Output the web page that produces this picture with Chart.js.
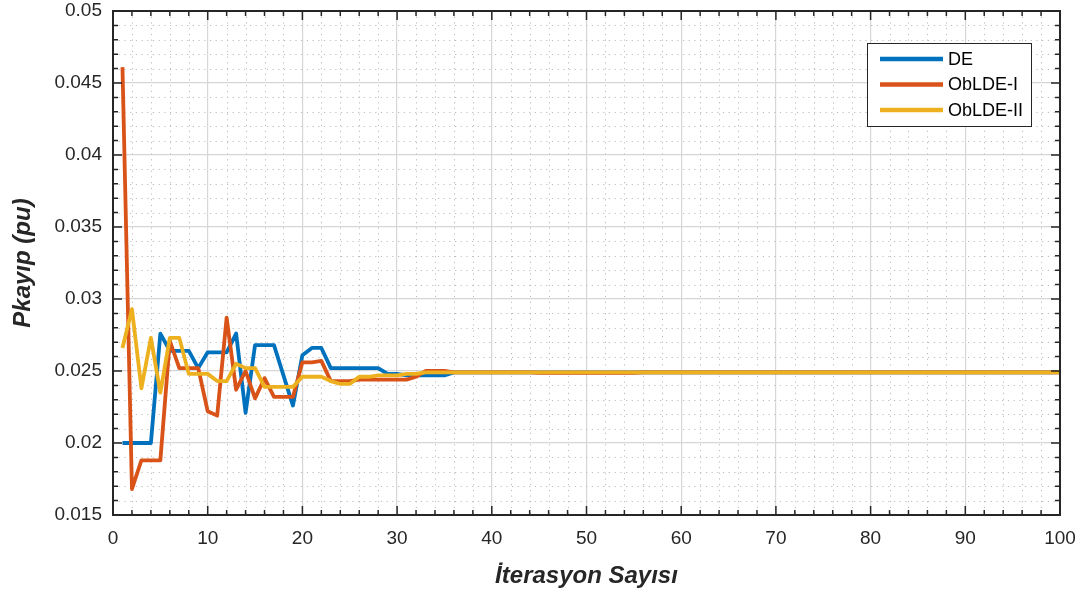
<!DOCTYPE html>
<html>
<head>
<meta charset="utf-8">
<script src="https://cdn.jsdelivr.net/npm/chart.js@4/dist/chart.umd.min.js"></script>
<style>
html,body{margin:0;padding:0;background:#fff;}
#wrap{width:1083px;height:594px;}
</style>
</head>
<body>
<div id="wrap"><canvas id="c" width="1083" height="594"></canvas></div>
<script>
const iterations = [1,2,3,4,5,6,7,8,9,10,11,12,13,14,15,16,17,18,19,20,21,22,23,24,25,26,27,28,29,30,31,32,33,34,35,36,37,38,39,40,41,42,43,44,45,46,47,48,49,50,51,52,53,54,55,56,57,58,59,60,61,62,63,64,65,66,67,68,69,70,71,72,73,74,75,76,77,78,79,80,81,82,83,84,85,86,87,88,89,90,91,92,93,94,95,96,97,98,99,100];

const seriesNames = ["DE", "ObLDE-I", "ObLDE-II"];

const deValues = [
0.0200,0.0200,0.0200,0.0200,0.0276,0.0264,0.0264,0.0264,0.0252,0.0263,
0.0263,0.0263,0.0276,0.0221,0.0268,0.0268,0.0268,0.0247,0.0226,0.0261,
0.0266,0.0266,0.0252,0.0252,0.0252,0.0252,0.0252,0.0252,0.0248,0.0248,
0.0247,0.0247,0.0247,0.0247,0.0247,0.0249,0.0249,0.0249,0.0249,0.0249,
0.0249,0.0249,0.0249,0.0249,0.0249,0.0249,0.0249,0.0249,0.0249,0.0249,
0.0249,0.0249,0.0249,0.0249,0.0249,0.0249,0.0249,0.0249,0.0249,0.0249,
0.0249,0.0249,0.0249,0.0249,0.0249,0.0249,0.0249,0.0249,0.0249,0.0249,
0.0249,0.0249,0.0249,0.0249,0.0249,0.0249,0.0249,0.0249,0.0249,0.0249,
0.0249,0.0249,0.0249,0.0249,0.0249,0.0249,0.0249,0.0249,0.0249,0.0249,
0.0249,0.0249,0.0249,0.0249,0.0249,0.0249,0.0249,0.0249,0.0249,0.0249];

const obldeIValues = [
0.0461,0.0168,0.0188,0.0188,0.0188,0.0271,0.0252,0.0252,0.0252,0.0222,
0.0219,0.0287,0.0237,0.0250,0.0231,0.0245,0.0232,0.0232,0.0232,0.0256,
0.0256,0.0257,0.0243,0.0243,0.0243,0.0244,0.0244,0.0244,0.0244,0.0244,
0.0244,0.0246,0.0250,0.0250,0.0250,0.0249,0.0249,0.0249,0.0249,0.0249,
0.0249,0.0249,0.0249,0.0249,0.02488,0.02488,0.02488,0.02488,0.02488,0.02488,
0.02488,0.02488,0.02488,0.02488,0.02488,0.0249,0.0249,0.0249,0.0249,0.0249,
0.0249,0.0249,0.0249,0.0249,0.0249,0.0249,0.0249,0.0249,0.0249,0.0249,
0.0249,0.0249,0.0249,0.0249,0.0249,0.0249,0.0249,0.0249,0.0249,0.0249,
0.0249,0.0249,0.0249,0.0249,0.0249,0.0249,0.0249,0.0249,0.0249,0.0249,
0.0249,0.0249,0.0249,0.0249,0.0249,0.0249,0.0249,0.0249,0.0249,0.0249];

const obldeIIValues = [
0.0266,0.0293,0.0238,0.0273,0.0235,0.0273,0.0273,0.0248,0.0248,0.0248,
0.0243,0.0243,0.0255,0.0252,0.0252,0.0239,0.0239,0.0239,0.0239,0.0246,
0.0246,0.0246,0.0243,0.0241,0.0241,0.0246,0.0246,0.0247,0.0247,0.0247,
0.0248,0.0248,0.0249,0.0249,0.0249,0.0249,0.0249,0.0249,0.0249,0.0249,
0.0249,0.0249,0.0249,0.0249,0.0249,0.0249,0.0249,0.0249,0.0249,0.0249,
0.0249,0.0249,0.0249,0.0249,0.0249,0.0249,0.0249,0.0249,0.0249,0.0249,
0.0249,0.0249,0.0249,0.0249,0.0249,0.0249,0.0249,0.0249,0.0249,0.0249,
0.0249,0.0249,0.0249,0.0249,0.0249,0.0249,0.0249,0.0249,0.0249,0.0249,
0.0249,0.0249,0.0249,0.0249,0.0249,0.0249,0.0249,0.0249,0.0249,0.0249,
0.0249,0.0249,0.0249,0.0249,0.0249,0.0249,0.0249,0.0249,0.0249,0.0249];

const xTickLabels = ["0","10","20","30","40","50","60","70","80","90","100"];
const yTickLabels = ["0.015","0.02","0.025","0.03","0.035","0.04","0.045","0.05"];

const xTitle = "İterasyon Sayısı";
const yTitle = "Pkayıp (pu)";

const colors = ["#0072BD", "#D95319", "#EDB120"];
const allValues = [deValues, obldeIValues, obldeIIValues];

const datasets = allValues.map((vals, k) => ({
  label: seriesNames[k],
  data: iterations.map((it, i) => ({x: it, y: vals[i]})),
  borderColor: colors[k],
  backgroundColor: colors[k],
  borderWidth: 3.8,
  pointRadius: 0,
  tension: 0,
  fill: false,
  order: allValues.length - 1 - k,
  borderJoinStyle: 'round',
  borderCapStyle: 'butt'
}));

const AXIS = '#262626';
const FONT = '"Liberation Sans", Arial, Helvetica, sans-serif';

const decor = {
  id: 'decor',
  beforeDatasetsDraw(chart) {
    const {ctx, chartArea: a, scales: {x, y}} = chart;
    ctx.save();
    ctx.strokeStyle = '#bdbdbd';
    ctx.lineWidth = 1;
    ctx.setLineDash([1.2, 4.5]);
    for (let k = 0; k <= 100; k += 2) {
      if (k % 10 === 0) continue;
      const px = Math.round(x.getPixelForValue(k)) + 0.5;
      ctx.beginPath(); ctx.moveTo(px, a.top); ctx.lineTo(px, a.bottom); ctx.stroke();
    }
    for (let k = 15; k <= 50; k++) {
      if (k % 5 === 0) continue;
      const py = Math.round(y.getPixelForValue(k / 1000)) + 0.5;
      ctx.beginPath(); ctx.moveTo(a.left, py); ctx.lineTo(a.right, py); ctx.stroke();
    }
    ctx.restore();
  },
  afterDraw(chart) {
    const {ctx, chartArea: a, scales: {x, y}} = chart;
    ctx.save();
    ctx.strokeStyle = AXIS;
    ctx.lineWidth = 1.5;
    ctx.setLineDash([]);
    for (let k = 0; k <= 100; k += 2) {
      const len = (k % 10 === 0) ? 9 : 5;
      const px = x.getPixelForValue(k);
      ctx.beginPath();
      ctx.moveTo(px, a.bottom); ctx.lineTo(px, a.bottom - len);
      ctx.moveTo(px, a.top); ctx.lineTo(px, a.top + len);
      ctx.stroke();
    }
    for (let k = 15; k <= 50; k++) {
      const len = (k % 5 === 0) ? 9 : 5;
      const py = y.getPixelForValue(k / 1000);
      ctx.beginPath();
      ctx.moveTo(a.left, py); ctx.lineTo(a.left + len, py);
      ctx.moveTo(a.right, py); ctx.lineTo(a.right - len, py);
      ctx.stroke();
    }
    ctx.lineWidth = 2;
    ctx.strokeRect(a.left, a.top, a.right - a.left, a.bottom - a.top);

    const lx = a.right - 193, ly = a.top + 32, lw = 164, lh = 83;
    ctx.fillStyle = '#ffffff';
    ctx.fillRect(lx, ly, lw, lh);
    ctx.strokeStyle = AXIS;
    ctx.lineWidth = 1;
    ctx.strokeRect(lx + 0.5, ly + 0.5, lw, lh);
    ctx.font = '18px ' + FONT;
    ctx.textBaseline = 'middle';
    ctx.textAlign = 'left';
    chart.data.datasets.forEach((ds, i) => {
      const cy = ly + 16 + i * 25.5;
      ctx.strokeStyle = ds.borderColor;
      ctx.lineWidth = 4.5;
      ctx.beginPath(); ctx.moveTo(lx + 13, cy); ctx.lineTo(lx + 76, cy); ctx.stroke();
      ctx.fillStyle = '#000000';
      ctx.fillText(ds.label, lx + 81, cy + 1);
    });
    ctx.restore();
  }
};

new Chart(document.getElementById('c'), {
  type: 'line',
  data: { datasets },
  options: {
    responsive: false,
    devicePixelRatio: 1,
    animation: false,
    layout: { padding: { top: 11, right: 23, left: 0, bottom: 0 } },
    plugins: { legend: { display: false }, tooltip: { enabled: false } },
    scales: {
      x: {
        type: 'linear',
        min: 0, max: 100,
        afterFit(s) { s.height = 79; s.paddingLeft = 0; s.paddingRight = 0; },
        afterBuildTicks(s) { s.ticks = xTickLabels.map(t => ({ value: Number(t) })); },
        ticks: {
          callback: (v) => { const i = xTickLabels.indexOf(String(v)); return i >= 0 ? xTickLabels[i] : ''; },
          font: { family: FONT, size: 19 },
          color: AXIS,
          padding: 12,
          maxRotation: 0,
          autoSkip: false
        },
        grid: { color: '#d6d6d6', lineWidth: 1.2, drawTicks: false },
        border: { display: false },
        title: {
          display: true,
          text: xTitle,
          font: { family: FONT, size: 24, weight: 'bold', style: 'italic' },
          color: AXIS,
          padding: { top: 0, bottom: 3 }
        }
      },
      y: {
        type: 'linear',
        min: 0.015, max: 0.05,
        afterFit(s) { s.width = 113; s.paddingTop = 0; s.paddingBottom = 0; },
        afterBuildTicks(s) { s.ticks = yTickLabels.map(t => ({ value: Number(t) })); },
        ticks: {
          callback: (v) => { const m = yTickLabels.find(t => Math.abs(Number(t) - v) < 1e-9); return m || ''; },
          font: { family: FONT, size: 19 },
          color: AXIS,
          padding: 11,
          autoSkip: false
        },
        grid: { color: '#d6d6d6', lineWidth: 1.2, drawTicks: false },
        border: { display: false },
        title: {
          display: true,
          text: yTitle,
          font: { family: FONT, size: 24, weight: 'bold', style: 'italic' },
          color: AXIS,
          padding: { top: 9, bottom: 0 }
        }
      }
    }
  },
  plugins: [decor]
});
</script>
</body>
</html>
